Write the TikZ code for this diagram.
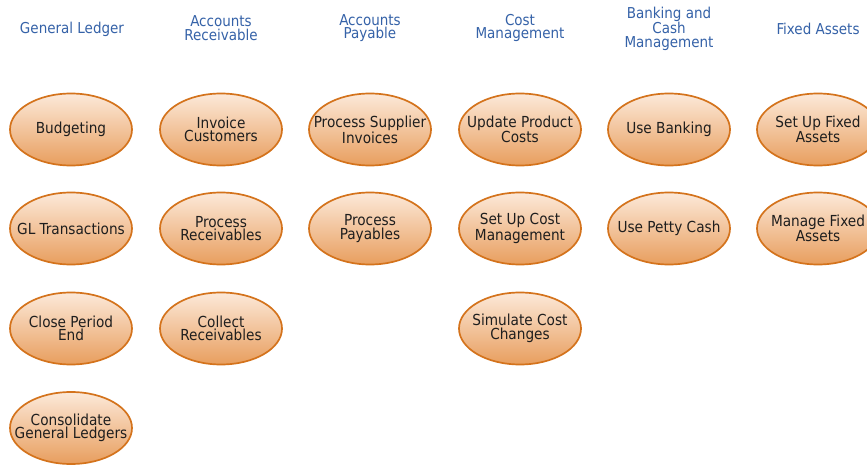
\documentclass[tikz,border=0pt]{standalone}
\usepackage{fontspec}
\setmainfont{DejaVu Sans Condensed}
\usetikzlibrary{shapes.geometric}
\definecolor{hdr}{HTML}{3562A8}
\definecolor{bord}{HTML}{D4731C}
\definecolor{ftop}{HTML}{FCE9D9}
\definecolor{fbot}{HTML}{E89E5E}
\definecolor{txt}{HTML}{1E1E1E}
\tikzset{
  task/.style={ellipse, draw=bord, line width=1.7pt, top color=ftop, bottom color=fbot,
    minimum width=122pt, minimum height=72pt, inner sep=0pt},
  tasktext/.style={align=center, inner sep=0pt, font=\fontsize{15.2}{13.5}\selectfont, text=txt},
  head/.style={align=center, text=hdr, font=\fontsize{15}{13.8}\selectfont}
}
\begin{document}
\begin{tikzpicture}[x=1pt,y=-1pt]
\useasboundingbox (0,0) rectangle (867,465);
\fill[white] (0,0) rectangle (867,465);
% headers
\node[head] (h1) at (72,29) {General Ledger};
\node[head] (h2) at (221,28) {Accounts\\Receivable};
\node[head] (h3) at (370,28) {Accounts\\Payable};
\node[head] (h4) at (520,28) {Cost\\Management};
\node[head] (h5) at (669,29) {Banking and\\Cash\\Management};
\node[head] (h6) at (818,29) {Fixed Assets};
% column 1
\node[task, label={[tasktext]center:Budgeting}] (gl1) at (71,129.5) {};
\node[task, label={[tasktext]center:GL Transactions}] (gl2) at (71,228.5) {};
\node[task, label={[tasktext]center:Close Period\\End}] (gl3) at (71,328.5) {};
\node[task, label={[tasktext]center:Consolidate\\General Ledgers}] (gl4) at (71,428) {};
% column 2
\node[task, label={[tasktext]center:Invoice\\Customers}] (ar1) at (221,129.5) {};
\node[task, label={[tasktext]center:Process\\Receivables}] (ar2) at (221,228.5) {};
\node[task, label={[tasktext]center:Collect\\Receivables}] (ar3) at (221,328.5) {};
% column 3
\node[task, label={[tasktext]center:Process Supplier\\Invoices}] (ap1) at (370,129.5) {};
\node[task, label={[tasktext]center:Process\\Payables}] (ap2) at (370,228.5) {};
% column 4
\node[task, label={[tasktext]center:Update Product\\Costs}] (cm1) at (520,129.5) {};
\node[task, label={[tasktext]center:Set Up Cost\\Management}] (cm2) at (520,228.5) {};
\node[task, label={[tasktext]center:Simulate Cost\\Changes}] (cm3) at (520,328.5) {};
% column 5
\node[task, label={[tasktext]center:Use Banking}] (bk1) at (669,129.5) {};
\node[task, label={[tasktext]center:Use Petty Cash}] (bk2) at (669,228.5) {};
% column 6
\node[task, label={[tasktext]center:Set Up Fixed\\Assets}] (fa1) at (818,129.5) {};
\node[task, label={[tasktext]center:Manage Fixed\\Assets}] (fa2) at (818,228.5) {};
\end{tikzpicture}
\end{document}
